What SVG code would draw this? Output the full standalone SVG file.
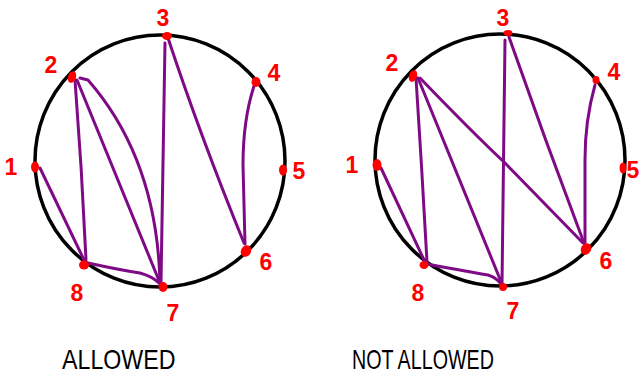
<svg xmlns="http://www.w3.org/2000/svg" width="640" height="376" viewBox="0 0 640 376">
<style>
.ring{fill:none;stroke:#000;stroke-width:3.5}
.e{fill:none;stroke:#7f0a86;stroke-width:3;stroke-linecap:round;stroke-linejoin:round}
.dot{fill:#f00}
.num{font-family:"Liberation Sans",Arial,sans-serif;font-weight:bold;font-size:23px;fill:#f00;text-anchor:middle}
.cap{font-family:"Liberation Sans",Arial,sans-serif;font-weight:normal;font-size:27px;fill:#000}
</style>
<rect width="640" height="376" fill="#fff"/>
<g id="circle-left"><ellipse class="ring" cx="160" cy="161" rx="125" ry="126"/></g>
<g id="circle-right"><ellipse class="ring" cx="500" cy="160" rx="125" ry="126"/></g>
<g id="connectors">
<path class="e" d="M40,168 L85,262"/>
<path class="e" d="M75,80 Q82,170 86,260"/>
<path class="e" d="M77,80 L160,283"/>
<path class="e" d="M80,78 L88,80 Q157,159 160,283"/>
<path class="e" d="M165,43 L161,283"/>
<path class="e" d="M168,38 Q200,135 244,243"/>
<path class="e" d="M254,86 Q243,120 243,165 L245,244"/>
<path class="e" d="M88,263 Q120,270 140,273 Q152,276 160,284"/>
<path class="e" d="M381,168 L425,262"/>
<path class="e" d="M416,78 Q422,170 427,262"/>
<path class="e" d="M418,78 L502,284"/>
<path class="e" d="M420,78 Q470,130 505,163 L583,243"/>
<path class="e" d="M505,40 L502,285"/>
<path class="e" d="M509,37 Q545,140 584,243"/>
<path class="e" d="M595,85 Q585,120 585,160 L585,243"/>
<path class="e" d="M427,264 Q470,272 488,275 Q497,278 501,284"/>
</g>
<g id="n1-left"><ellipse class="dot" cx="35" cy="167" rx="4" ry="5.5"/><text class="num" x="11" y="175">1</text></g>
<g id="n2-left"><ellipse class="dot" cx="72" cy="77" rx="4" ry="6" transform="rotate(20 72 77)"/><text class="num" x="51" y="73">2</text></g>
<g id="n3-left"><ellipse class="dot" cx="167" cy="36" rx="5" ry="4"/><text class="num" x="163" y="26">3</text></g>
<g id="n4-left"><ellipse class="dot" cx="256" cy="82" rx="4.5" ry="5"/><text class="num" x="274" y="81">4</text></g>
<g id="n5-left"><ellipse class="dot" cx="283" cy="170" rx="4" ry="5.5"/><text class="num" x="299" y="179">5</text></g>
<g id="n6-left"><ellipse class="dot" cx="246" cy="251" rx="5" ry="6" transform="rotate(30 246 251)"/><text class="num" x="266" y="270">6</text></g>
<g id="n7-left"><ellipse class="dot" cx="163" cy="287" rx="4.5" ry="5"/><text class="num" x="173" y="321">7</text></g>
<g id="n8-left"><ellipse class="dot" cx="84" cy="265" rx="5" ry="4.5"/><text class="num" x="77" y="301">8</text></g>
<g id="n1-right"><ellipse class="dot" cx="377" cy="165" rx="4.5" ry="6"/><text class="num" x="352" y="173">1</text></g>
<g id="n2-right"><ellipse class="dot" cx="413" cy="76" rx="4" ry="6" transform="rotate(20 413 76)"/><text class="num" x="392" y="71">2</text></g>
<g id="n3-right"><ellipse class="dot" cx="508" cy="33" rx="4.5" ry="3"/><text class="num" x="503" y="26">3</text></g>
<g id="n4-right"><ellipse class="dot" cx="596" cy="80" rx="3.5" ry="4"/><text class="num" x="614" y="80">4</text></g>
<g id="n5-right"><ellipse class="dot" cx="623" cy="168" rx="3.5" ry="5.5"/><text class="num" x="633" y="178">5</text></g>
<g id="n6-right"><ellipse class="dot" cx="586" cy="249" rx="5" ry="6" transform="rotate(30 586 249)"/><text class="num" x="606" y="269">6</text></g>
<g id="n7-right"><ellipse class="dot" cx="503" cy="287" rx="4" ry="4"/><text class="num" x="513" y="319">7</text></g>
<g id="n8-right"><ellipse class="dot" cx="424" cy="265" rx="4.5" ry="4"/><text class="num" x="418" y="301">8</text></g>
<g id="captions">
<text class="cap" transform="translate(62 369) scale(0.86 1)">ALLOWED</text>
<text class="cap" transform="translate(352 369) scale(0.73 1)">NOT ALLOWED</text>
</g>
</svg>
